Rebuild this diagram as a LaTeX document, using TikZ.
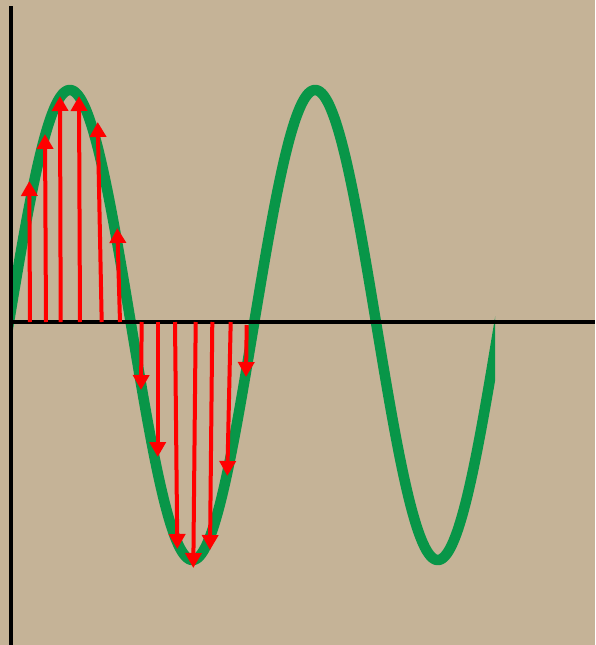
\documentclass[tikz,border=0pt]{standalone}
\usetikzlibrary{arrows.meta}
\definecolor{bgtan}{RGB}{197,179,151}
\definecolor{wavegreen}{RGB}{8,150,72}
\definecolor{arrred}{RGB}{255,0,0}
\tikzset{
  axisline/.style={line width=4pt, black},
  wave/.style={line width=10.5pt, wavegreen, line join=round},
  vec/.style={line width=4pt, arrred, -{Triangle[width=16pt,length=15pt]}}
}
\begin{document}
\begin{tikzpicture}[x=1pt,y=-1pt]
\fill[bgtan] (0,0) rectangle (595,645);
\useasboundingbox (0,0) rectangle (595,645);
\begin{scope}
\clip (11,0) rectangle (495,645);
\draw[wave] plot[domain=5:505, samples=400, smooth] (\x, {325-235*sin(1.46759*(\x-8.5))});
\end{scope}
% axes
\coordinate (ytop) at (11,6);
\coordinate (ybot) at (11,645);
\coordinate (xl) at (11,322);
\coordinate (xr) at (595,322);
\draw[axisline] (ytop) -- (ybot);
\draw[axisline] (xl) -- (xr);
% upward arrows
\foreach \bx/\tx/\ty [count=\i] in {30/29.3/181, 46/45/134, 60.7/60/96, 80/79/96, 101.7/97.7/122, 120/117.3/228}{
  \coordinate (ub\i) at (\bx,322);
  \coordinate (ut\i) at (\tx,\ty);
  \draw[vec] (ub\i) -- (ut\i);
}
% downward arrows
\foreach \bx/\by/\tx/\ty [count=\i] in {141.7/322/141/390, 157.7/322/157.7/457, 175/322/177.3/549, 195.7/322/193.3/568, 212.3/322/210/550, 230.7/322/227.3/476, 246.7/325/246/377}{
  \coordinate (db\i) at (\bx,\by);
  \coordinate (dt\i) at (\tx,\ty);
  \draw[vec] (db\i) -- (dt\i);
}
\end{tikzpicture}
\end{document}
